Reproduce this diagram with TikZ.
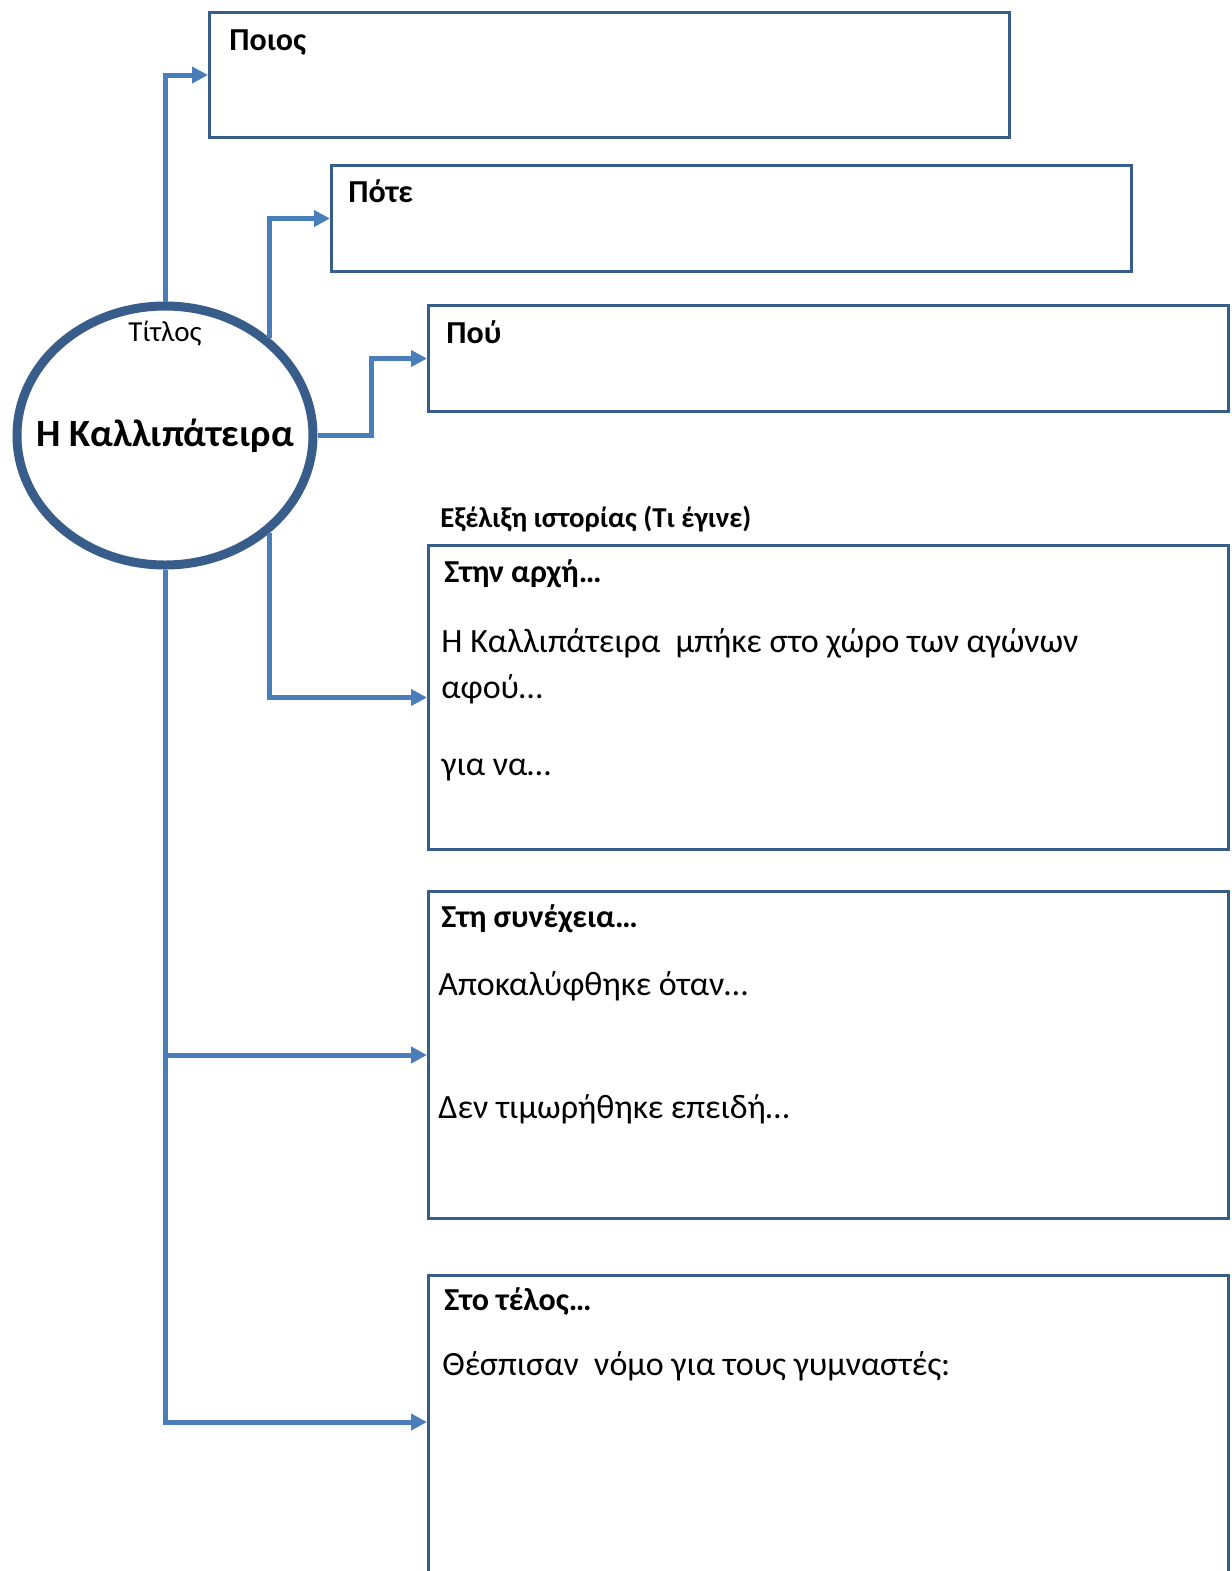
\documentclass[tikz,border=0pt]{standalone}
\usepackage{fontspec}
\setmainfont{Carlito}
\usetikzlibrary{arrows.meta, positioning, shapes.geometric, calc}
\definecolor{boxblue}{HTML}{385D8A}
\definecolor{linkblue}{HTML}{4A7EBB}
\tikzset{
    pane/.style={draw=boxblue, line width=1.5pt, rectangle, anchor=north west,
        minimum width=400pt, minimum height=#1, inner sep=0pt},
    pane/.default={53pt},
    head/.style={font=\bfseries\fontsize{16}{19}\selectfont, anchor=base west, inner sep=0pt},
    body/.style={font=\fontsize{17}{20}\selectfont, anchor=base west, inner sep=0pt},
    tag/.style={font=\fontsize{14.5}{17}\selectfont, anchor=base, inner sep=0pt},
    bubble/.style={ellipse, draw=boxblue, line width=4.5pt, minimum width=148pt,
        minimum height=129.5pt, inner sep=0pt},
    link/.style={draw=linkblue, line width=2.5pt, -{Triangle[length=8pt,width=8pt]}}
}
\begin{document}
\begin{tikzpicture}[x=0.5pt, y=-0.5pt]
    \useasboundingbox (0,0) rectangle (1232,1571);
    % title bubble
    \node[bubble] (title) at (165,435.5) {};
    \node[font=\bfseries\fontsize{19.3}{23}\selectfont, inner sep=0pt] (titletext) at (title.center) {Η Καλλιπάτειρα};
    \node[tag] (tagline) at ([shift={(0,40)}]title.north) {Τίτλος};
    % boxes
    \node[pane=62.5pt] (ppoios) at (208,11) {};
    \node[pane] (ppote) at (330,164) {};
    \node[pane] (ppou) at (427,304) {};
    \node[pane=152pt] (pbegin) at (427,544) {};
    \node[pane=163.5pt] (pnext) at (427,890) {};
    \node[pane=160pt] (pend) at (427,1274) {};
    % texts
    \node[head] (hpoios) at ([shift={(21,39)}]ppoios.north west) {Ποιος};
    \node[head] (hpote) at ([shift={(18,38)}]ppote.north west) {Πότε};
    \node[head] (hpou) at ([shift={(19,39)}]ppou.north west) {Πού};
    \node[head, font=\bfseries\fontsize{14.4}{17}\selectfont] (story) at ([shift={(13,-17)}]pbegin.north west) {Εξέλιξη ιστορίας (Τι έγινε)};
    \node[head] (hbegin) at ([shift={(17,38)}]pbegin.north west) {Στην αρχή…};
    \node[body] (bbegin1) at ([shift={(14,108)}]pbegin.north west) {Η Καλλιπάτειρα~ μπήκε στο χώρο των αγώνων};
    \node[body] (bbegin2) at ([shift={(14,154)}]pbegin.north west) {αφού…};
    \node[body] (bbegin3) at ([shift={(14,231)}]pbegin.north west) {για να…};
    \node[head] (hnext) at ([shift={(14,37)}]pnext.north west) {Στη συνέχεια…};
    \node[body] (bnext1) at ([shift={(11,105)}]pnext.north west) {Αποκαλύφθηκε όταν…};
    \node[body] (bnext2) at ([shift={(11,228)}]pnext.north west) {Δεν τιμωρήθηκε επειδή…};
    \node[head] (hend) at ([shift={(17,36)}]pend.north west) {Στο τέλος…};
    \node[body] (bend1) at ([shift={(15,101)}]pend.north west) {Θέσπισαν~ νόμο για τους γυμναστές:};
    % connectors
    \coordinate (endin) at ([shift={(0,148)}]pend.north west);
    \draw[link] (title.north) |- (ppoios.west);
    \draw[link] (title.43) |- (ppote.west);
    \draw[link] (title.east) -- ++(54,0) |- (ppou.west);
    \draw[link] (title.-43) |- (pbegin.west);
    \draw[link] (title.south) |- (pnext.west);
    \draw[link] (title.south) |- (endin);
\end{tikzpicture}
\end{document}
